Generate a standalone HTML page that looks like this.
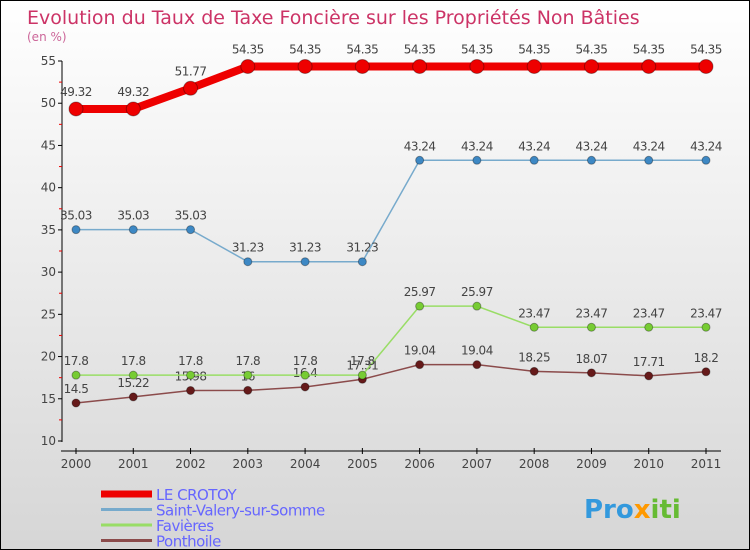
<!DOCTYPE html>
<html><head><meta charset="utf-8"><style>
body{margin:0;}
#wrap{width:750px;height:550px;position:relative;box-sizing:border-box;border:1px solid #000;background:linear-gradient(#ffffff,#d6d6d6);overflow:hidden;font-family:"DejaVu Sans","Liberation Sans",sans-serif;}
svg text{font-family:"DejaVu Sans","Liberation Sans",sans-serif;}
</style></head><body>
<div id="wrap">
<svg id="chart" width="750" height="550">
<text x="26" y="23" font-size="19" fill="#cc3366">Evolution du Taux de Taxe Foncière sur les Propriétés Non Bâties</text>
<text x="26" y="40" font-size="12" fill="#cc6699">(en %)</text>
<g id="axes"></g><g id="series"></g><g id="legend"></g>
<text x="583" y="517" font-size="26" font-weight="bold" fill="#3399dd">Pro<tspan fill="#ff9900">x</tspan><tspan fill="#66bb33">iti</tspan></text>
</svg>
</div>
<script>
const years=["2000","2001","2002","2003","2004","2005","2006","2007","2008","2009","2010","2011"];
const crotoy=[49.32,49.32,51.77,54.35,54.35,54.35,54.35,54.35,54.35,54.35,54.35,54.35];
const stvalery=[35.03,35.03,35.03,31.23,31.23,31.23,43.24,43.24,43.24,43.24,43.24,43.24];
const favieres=[17.8,17.8,17.8,17.8,17.8,17.8,25.97,25.97,23.47,23.47,23.47,23.47];
const ponthoile=[14.5,15.22,15.98,16,16.4,17.31,19.04,19.04,18.25,18.07,17.71,18.2];
const yTicks=[10,15,20,25,30,35,40,45,50,55];
const seriesNames=["LE CROTOY","Saint-Valery-sur-Somme","Favières","Ponthoile"];
const NS="http://www.w3.org/2000/svg";
const xS=i=>75+i*(630/11);
const yS=v=>440-(v-10)*(380/45);
function mk(tag,attrs,parent,txt){const e=document.createElementNS(NS,tag);for(const k in attrs)e.setAttribute(k,attrs[k]);if(txt!==undefined)e.textContent=txt;parent.appendChild(e);return e;}
const ax=document.getElementById('axes');
let l=mk('line',{x1:61,y1:60,x2:61,y2:441,stroke:'#000','stroke-width':1},ax);


l=mk('line',{x1:60,y1:450,x2:720,y2:450,stroke:'#000','stroke-width':1},ax);


yTicks.forEach((v,i)=>{const y=yS(v);
 mk('line',{x1:57,y1:y,x2:61,y2:y,stroke:'#000'},ax);
 if(i<yTicks.length-1){const ym=yS(v+2.5);mk('line',{x1:58,y1:ym,x2:61,y2:ym,stroke:'#e00'},ax);}
 const t=mk('text',{x:55,y:y+4,'font-size':12,fill:'#444','text-anchor':'end'},ax,String(v));
 
 
});
years.forEach((yr,i)=>{const x=xS(i);
 mk('line',{x1:x,y1:447,x2:x,y2:453,stroke:'#000'},ax);
 const t=mk('text',{x:x,y:467,'font-size':12,fill:'#444','text-anchor':'middle'},ax,yr);
 
 
});
const sg=document.getElementById('series');
const defs=[
 {d:ponthoile,c:'#8b4b4b',dot:'#661a1a',w:1.5,r:4,name:'ponthoile'},
 {d:favieres,c:'#99dd66',dot:'#77cc33',w:1.5,r:4,name:'favieres'},
 {d:stvalery,c:'#77aacc',dot:'#3d88c4',w:1.5,r:4,name:'saint-valery'},
 {d:crotoy,c:'#ee0000',dot:'#ee0000',w:8,r:7,name:'le-crotoy'}];
defs.forEach(s=>{
 const p=mk('polyline',{points:s.d.map((v,i)=>xS(i)+','+yS(v)).join(' '),fill:'none',stroke:s.c,'stroke-width':s.w},sg);
 
 
 s.d.forEach((v,i)=>{
  const c=mk('circle',{cx:xS(i),cy:yS(v),r:s.r,fill:s.dot,stroke:'#00000055','stroke-width':1},sg);
  
  
  const t=mk('text',{x:xS(i),y:yS(v)-(s.r+6),'font-size':12,fill:'#444','text-anchor':'middle','letter-spacing':'-0.5'},sg,String(v));
  
  
 });
});
const lg=document.getElementById('legend');
const lc=['#ee0000','#77aacc','#99dd66','#8b4b4b'],lw=[7,3,3,3];
seriesNames.forEach((n,i)=>{const y=493+i*15.5;
 const ln=mk('line',{x1:100,y1:y,x2:151,y2:y,stroke:lc[i],'stroke-width':lw[i]},lg);
 
 
 const t=mk('text',{x:155,y:y+6,'font-size':15,fill:'#6666ff','letter-spacing':'-0.5'},lg,n);
 
 
});
</script>
</body></html>
